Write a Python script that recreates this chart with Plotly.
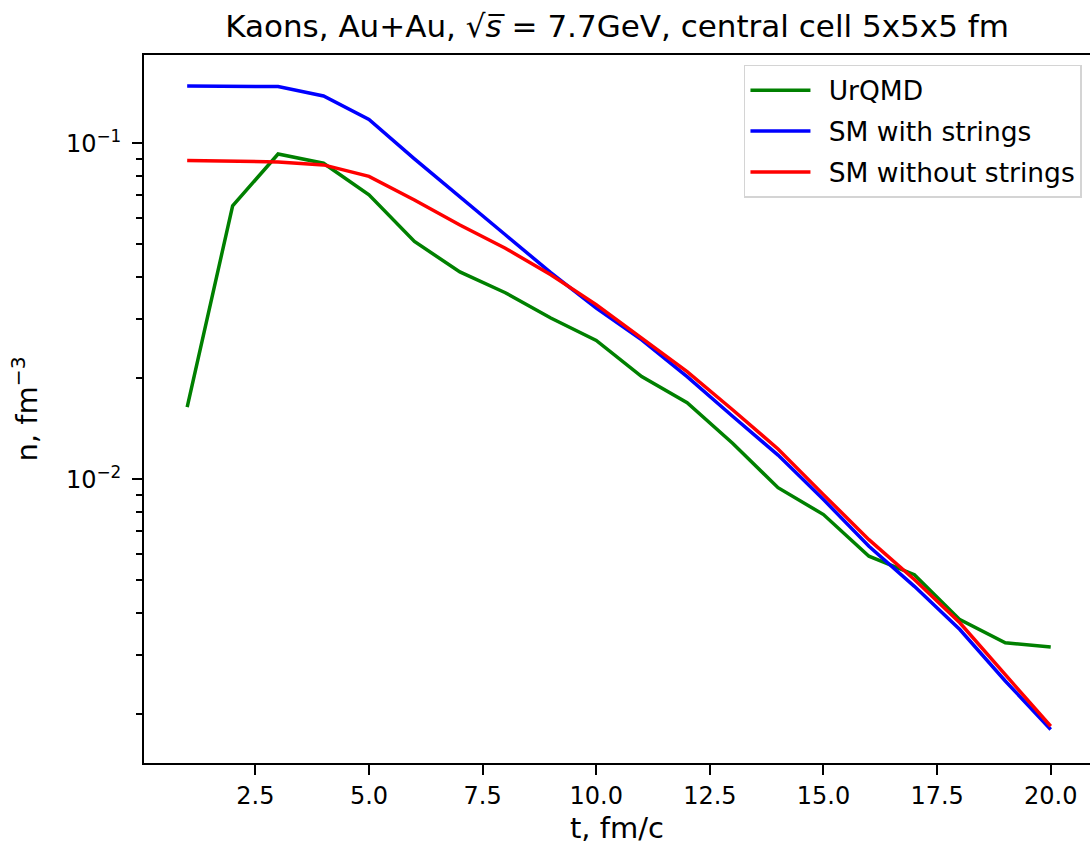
import plotly.graph_objects as go

# Kaon density in the central 5x5x5 fm cell vs. time
t = list(range(1, 21))
urqmd = [0.0164, 0.0651, 0.0929, 0.0872, 0.0702, 0.0510, 0.0414, 0.0359, 0.0302, 0.0259,
         0.0202, 0.0169, 0.0128, 0.00944, 0.00785, 0.00590, 0.00520, 0.00382, 0.00326, 0.00317]
sm_with_strings = [0.148, 0.148, 0.1475, 0.1383, 0.1177, 0.0898, 0.0690, 0.0534, 0.0412, 0.0323,
                   0.0260, 0.0202, 0.0154, 0.0118, 0.0087, 0.00632, 0.00480, 0.00357, 0.00251, 0.00180]
sm_without_strings = [0.0888, 0.0886, 0.0880, 0.0862, 0.0797, 0.0678, 0.0571, 0.0487, 0.0406, 0.0331,
                      0.0263, 0.0209, 0.0161, 0.0123, 0.0090, 0.00661, 0.00503, 0.00374, 0.00262, 0.00184]

x_ticks = [2.5, 5.0, 7.5, 10.0, 12.5, 15.0, 17.5, 20.0]
y_ticks = [0.01, 0.1]
y_ticktext = ["10<sup>\u22122</sup>", "10<sup>\u22121</sup>"]
y_minor = [m * 10.0 ** e for e in (-3, -2, -1) for m in range(2, 10)]

FONT = "DejaVu Sans"
GAP = "\u2002"  # spacing between legend line and label

fig = go.Figure()
for name, ys, color in [
    ("UrQMD", urqmd, "green"),
    ("SM with strings", sm_with_strings, "blue"),
    ("SM without strings", sm_without_strings, "red"),
]:
    fig.add_trace(go.Scatter(x=t, y=ys, mode="lines", name=GAP + name, legendgroup=name,
                             line=dict(color=color, width=3.5)))

fig.update_layout(
    width=1090, height=845,
    margin=dict(l=144, r=0, t=55, b=82),
    paper_bgcolor="white", plot_bgcolor="white",
    font=dict(family=FONT, size=24, color="black"),
    title=dict(text="Kaons, Au+Au, \u221a<i>s\u0305</i> = 7.7GeV, central cell 5x5x5 fm",
               x=0.5, xref="paper", xanchor="center",
               y=1 - 26 / 845, yanchor="middle", font=dict(size=31)),
    legend=dict(x=0.9915, y=0.986, xanchor="right", yanchor="top",
                bgcolor="rgba(255,255,255,0.8)", bordercolor="#d4d4d4", borderwidth=1.5,
                font=dict(size=26.5), itemwidth=60, tracegroupgap=3.5),
    showlegend=True,
)

fig.update_xaxes(
    range=[0.05, 20.864], tickvals=x_ticks, ticktext=[f"{v:.1f}" for v in x_ticks],
    ticks="outside", ticklen=10, tickwidth=1.9, tickcolor="black",
    showline=True, linecolor="black", linewidth=1.9, mirror=True,
    showgrid=False, zeroline=False,
    title=dict(text="t, fm/c", standoff=10),
)
fig.update_yaxes(
    type="log", range=[-2.8445, -0.7374],
    tickvals=y_ticks, ticktext=y_ticktext,
    ticks="outside", ticklen=10, tickwidth=1.9, tickcolor="black", ticklabelstandoff=6,
    minor=dict(tickvals=y_minor, ticks="outside", ticklen=6, tickwidth=1.5, tickcolor="black",
               showgrid=False),
    showline=True, linecolor="black", linewidth=1.9, mirror=False,
    showgrid=False, zeroline=False,
    title=dict(text="n, fm<sup>\u22123</sup>", standoff=20),
)

fig.write_html("out.html")
